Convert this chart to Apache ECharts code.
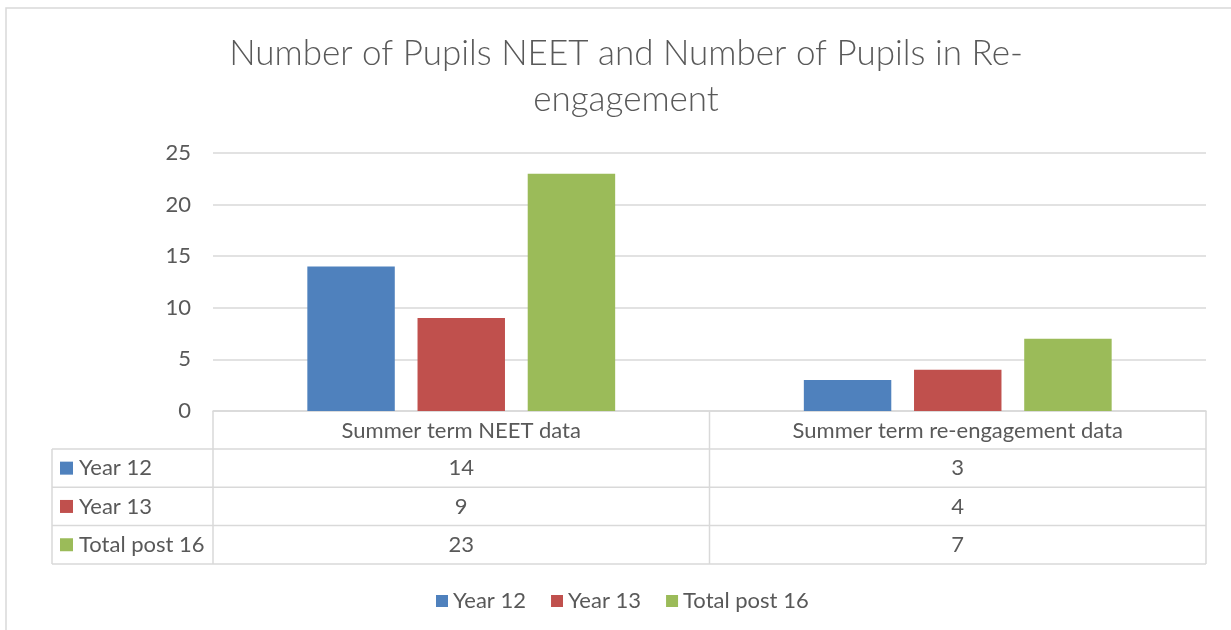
<!DOCTYPE html>
<html>
<head>
<meta charset="utf-8">
<script src="https://cdn.jsdelivr.net/npm/echarts@6/dist/echarts.min.js"></script>
<style>
  html, body { margin: 0; padding: 0; background: #fff; }
  #charts { width: 1231px; height: 630px; }
</style>
</head>
<body>
<div id="charts"></div>
<script>
// data
var categories = ['Summer term NEET data', 'Summer term re-engagement data'];
var seriesNames = ['Year 12', 'Year 13', 'Total post 16'];
var year12 = [14, 3];
var year13 = [9, 4];
var totalPost16 = [23, 7];
var yTicks = [0, 5, 10, 15, 20, 25];

var colors = ['#4F81BD', '#C0504D', '#9BBB59'];
var textColor = '#595959';
var lineColor = '#d9d9d9';
var font = 'Lato, "Open Sans", sans-serif';
var fs = 22;

// layout of plot area + data table
var W = 1231, H = 630;
var gridLeft = 213, gridRight = 1206, gridTop = 153, gridBottom = 411;
var rowH = 38.3;
var tableLeft = 52;
var headerBottom = 449;

var allValues = [year12, year13, totalPost16];

var chart = echarts.init(document.getElementById('charts'));

// 数据表格 (graphic elements)
function buildTable() {
  var g = [];
  var band = (gridRight - gridLeft) / categories.length;
  var tableBottom = headerBottom + rowH * seriesNames.length;
  var line = function (x1, y1, x2, y2) {
    g.push({ type: 'line', shape: { x1: x1, y1: y1, x2: x2, y2: y2 },
      style: { stroke: lineColor, lineWidth: 1.5 }, silent: true });
  };
  // horizontal lines
  for (var r = 0; r <= seriesNames.length; r++) {
    var y = headerBottom + r * rowH;
    line(tableLeft, y, gridRight, y);
  }
  // vertical lines
  line(tableLeft, headerBottom, tableLeft, tableBottom);
  for (var c = 0; c <= categories.length; c++) {
    var x = gridLeft + c * band;
    line(x, gridBottom, x, tableBottom);
  }
  // row labels and values
  for (var i = 0; i < seriesNames.length; i++) {
    var cy = headerBottom + i * rowH + rowH / 2;
    g.push({ type: 'rect', shape: { x: 60, y: cy - 6.5, width: 13, height: 13 },
      style: { fill: colors[i] }, silent: true });
    g.push({ type: 'text', x: 79, y: cy,
      style: { text: seriesNames[i], fill: textColor, font: fs + 'px ' + font,
        textAlign: 'left', textVerticalAlign: 'middle' }, silent: true });
    for (var j = 0; j < categories.length; j++) {
      g.push({ type: 'text', x: gridLeft + band * (j + 0.5), y: cy,
        style: { text: String(allValues[i][j]), fill: textColor, font: fs + 'px ' + font,
          textAlign: 'center', textVerticalAlign: 'middle' }, silent: true });
    }
  }
  // chart border
  g.push({ type: 'rect', shape: { x: 6, y: 8, width: W + 20, height: H + 20 },
    style: { fill: 'none', stroke: lineColor, lineWidth: 1.5 }, silent: true });
  return g;
}

var option = {
  backgroundColor: '#fff',
  color: colors,
  textStyle: { fontFamily: font },
  title: {
    text: 'Number of Pupils NEET and Number of Pupils in Re-\nengagement',
    left: 621,
    textAlign: 'center',
    top: 26,
    textStyle: { fontSize: 35, fontWeight: 300, color: textColor, lineHeight: 46, fontFamily: font }
  },
  legend: {
    data: seriesNames,
    top: 585,
    left: 431,
    icon: 'rect',
    itemWidth: 12,
    itemHeight: 12,
    itemGap: 25,
    textStyle: { fontSize: fs, color: textColor }
  },
  grid: {
    left: gridLeft,
    right: W - gridRight,
    top: gridTop,
    bottom: H - gridBottom
  },
  xAxis: {
    type: 'category',
    data: categories,
    axisLine: { lineStyle: { color: lineColor, width: 1.5 } },
    axisTick: { show: false },
    axisLabel: { fontSize: fs, color: textColor, margin: 8, lineHeight: 24 }
  },
  yAxis: {
    type: 'value',
    min: yTicks[0],
    max: yTicks[yTicks.length - 1],
    interval: yTicks[1] - yTicks[0],
    axisLine: { show: false },
    axisTick: { show: false },
    splitLine: { lineStyle: { color: lineColor, width: 1.5 } },
    axisLabel: { fontSize: fs, color: textColor, margin: 22 }
  },
  series: [
    { name: seriesNames[0], type: 'bar', data: year12, barGap: '26%', barCategoryGap: '38%' },
    { name: seriesNames[1], type: 'bar', data: year13 },
    { name: seriesNames[2], type: 'bar', data: totalPost16 }
  ],
  graphic: buildTable(),
  animation: false
};

chart.setOption(option);
</script>
</body>
</html>
